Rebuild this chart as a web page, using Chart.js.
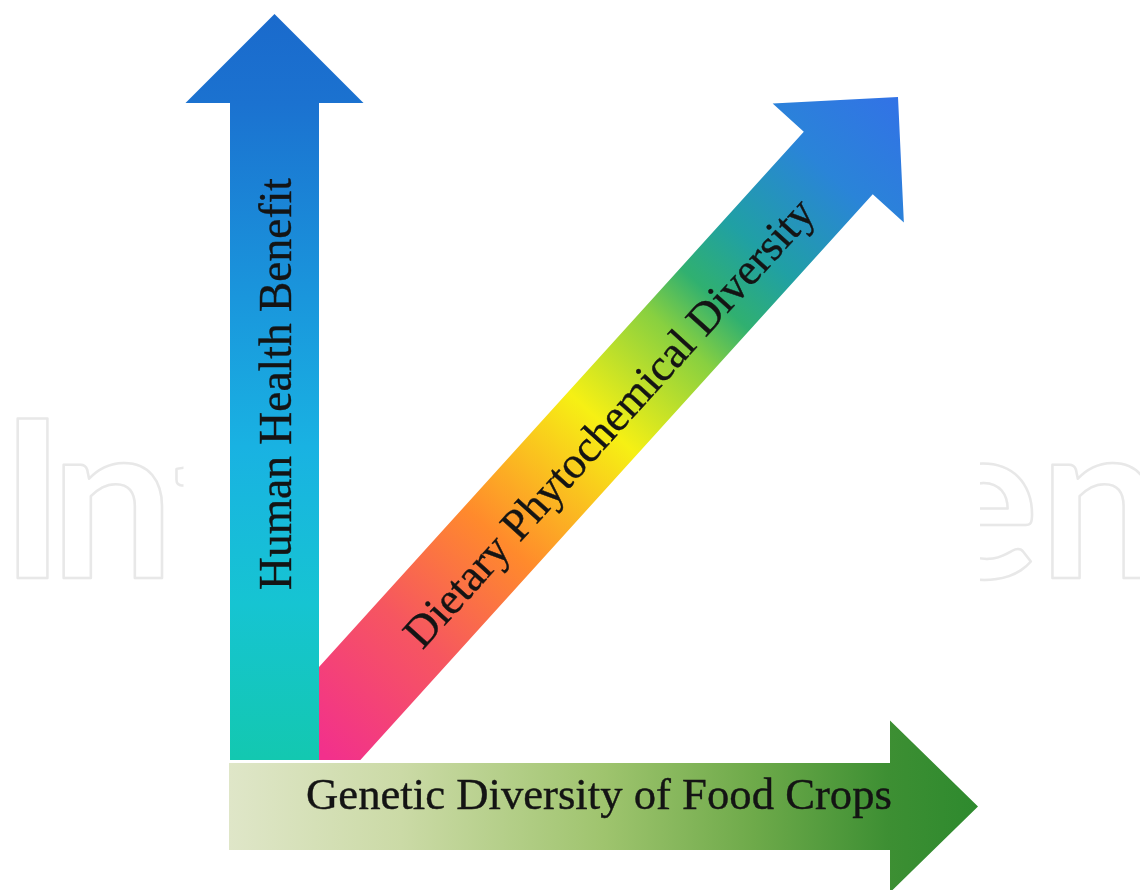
<!DOCTYPE html>
<html>
<head>
<meta charset="utf-8">
<title>Diversity and health</title>
<script src="https://cdn.jsdelivr.net/npm/chart.js@4.4.1/dist/chart.umd.min.js"></script>
<style>
  html, body { margin: 0; padding: 0; background: #fff; }
  #diagram { display: block; }
</style>
</head>
<body>
<canvas id="diagram" width="1140" height="890"></canvas>
<script>
// Arrow axes of the diagram, in chart units (x right, y up)
const arrowLabels = ['Human Health Benefit', 'Dietary Phytochemical Diversity', 'Genetic Diversity of Food Crops']
const arrowStartX = [274.5, 272, 229]
const arrowStartY = [130, 101.7, 83.5]
const arrowTipX = [274.5, 898, 978]
const arrowTipY = [876, 793, 83.5]

// Colours along each arrow, start to tip
const arrowStops = [
  [[0, '#13c8b0'], [0.21, '#16c4d2'], [0.42, '#19b2e2'], [0.62, '#1a96dc'], [0.88, '#1b72d0'], [1, '#1a6acc']],
  [[0, '#f2308c'], [0.064, '#f2308c'], [0.225, '#f65660'], [0.362, '#ff8a2c'], [0.528, '#f6f014'], [0.65, '#88d040'], [0.708, '#30b070'], [0.779, '#20a0a4'], [0.89, '#2a84d8'], [1, '#3272e6']],
  [[0, '#dfe6c8'], [0.23, '#cbdaa6'], [0.5, '#9fc46e'], [0.7, '#6eaa4a'], [0.88, '#3d8f33'], [1, '#2e8a2e']]
]

// Shape and label layout (pixels)
const shaftHalf = [44.5, 46.5, 43.5]
const headHalf = [89, 88.5, 86]
const headLength = [89, 89, 88]
const labelCenter = [376, 497, 370]
const labelLength = [412, 588, 586]
const labelShift = [16, 19, 2]

function axisPoints (chart, i) {
  const pts = chart.getDatasetMeta(i).data
  return { s: { x: pts[0].x, y: pts[0].y }, t: { x: pts[1].x, y: pts[1].y } }
}

function arrowPath (ctx, s, t, w, h, len) {
  const dx = t.x - s.x
  const dy = t.y - s.y
  const d = Math.hypot(dx, dy)
  const ux = dx / d
  const uy = dy / d
  const nx = -uy
  const ny = ux
  const bx = t.x - ux * len
  const by = t.y - uy * len
  ctx.beginPath()
  ctx.moveTo(s.x + nx * w, s.y + ny * w)
  ctx.lineTo(bx + nx * w, by + ny * w)
  ctx.lineTo(bx + nx * h, by + ny * h)
  ctx.lineTo(t.x, t.y)
  ctx.lineTo(bx - nx * h, by - ny * h)
  ctx.lineTo(bx - nx * w, by - ny * w)
  ctx.lineTo(s.x - nx * w, s.y - ny * w)
  ctx.closePath()
}

const arrowPlugin = {
  id: 'arrowDiagram',
  beforeDatasetsDraw (chart) {
    const ctx = chart.ctx
    const { width, height } = chart
    const v = axisPoints(chart, 0)
    const g = axisPoints(chart, 2)
    const left = v.s.x - headHalf[0] - 2
    const right = g.t.x + 2

    // faint watermark, kept clear of the arrows
    ctx.save()
    ctx.beginPath()
    ctx.rect(0, 0, left, height)
    ctx.rect(right, 0, width - right, height)
    ctx.clip()
    ctx.font = 'bold 220px Lato'
    ctx.textBaseline = 'alphabetic'
    ctx.strokeStyle = '#e8e8e8'
    ctx.lineWidth = 2.5
    ctx.lineJoin = 'round'
    ctx.strokeText('I', 0, 578)
    ctx.strokeText('nt', ctx.measureText('I').width - 15, 578)
    ctx.strokeText('en', ctx.measureText('IntechOp').width + 8, 578)
    ctx.restore()
  },
  afterDatasetsDraw (chart) {
    const ctx = chart.ctx
    const v = axisPoints(chart, 0)

    arrowLabels.forEach((label, i) => {
      const { s, t } = axisPoints(chart, i)
      const grad = ctx.createLinearGradient(s.x, s.y, t.x, t.y)
      arrowStops[i].forEach(([p, c]) => grad.addColorStop(p, c))

      ctx.save()
      if (i === 1) {
        // diagonal arrow sits in the corner between the other two
        const edge = v.s.x + shaftHalf[0]
        ctx.beginPath()
        ctx.rect(edge, 0, chart.width - edge, v.s.y)
        ctx.clip()
      }
      arrowPath(ctx, s, t, shaftHalf[i], headHalf[i], headLength[i])
      ctx.fillStyle = grad
      ctx.fill()
      ctx.restore()
    })

    arrowLabels.forEach((label, i) => {
      const { s, t } = axisPoints(chart, i)
      const ang = Math.atan2(t.y - s.y, t.x - s.x)
      ctx.save()
      ctx.font = '100px "Liberation Serif"'
      const size = 100 * labelLength[i] / ctx.measureText(label).width
      ctx.font = `${size}px "Liberation Serif"`
      ctx.translate(s.x + Math.cos(ang) * labelCenter[i], s.y + Math.sin(ang) * labelCenter[i])
      ctx.rotate(ang)
      ctx.fillStyle = '#141414'
      ctx.strokeStyle = '#141414'
      ctx.lineWidth = 0.4
      ctx.textAlign = 'center'
      ctx.textBaseline = 'alphabetic'
      ctx.fillText(label, 0, labelShift[i])
      ctx.strokeText(label, 0, labelShift[i])
      ctx.restore()
    })
  }
}

const datasets = arrowLabels.map((label, i) => ({
  label,
  data: [{ x: arrowStartX[i], y: arrowStartY[i] }, { x: arrowTipX[i], y: arrowTipY[i] }],
  pointRadius: 0,
  showLine: false
}))

new Chart(document.getElementById('diagram'), {
  type: 'scatter',
  data: { datasets },
  options: {
    responsive: false,
    animation: false,
    layout: { padding: 0 },
    events: [],
    scales: {
      x: { type: 'linear', min: 0, max: 1140, display: false },
      y: { type: 'linear', min: 0, max: 890, display: false }
    },
    plugins: {
      legend: { display: false },
      tooltip: { enabled: false }
    }
  },
  plugins: [arrowPlugin]
})
</script>
</body>
</html>
